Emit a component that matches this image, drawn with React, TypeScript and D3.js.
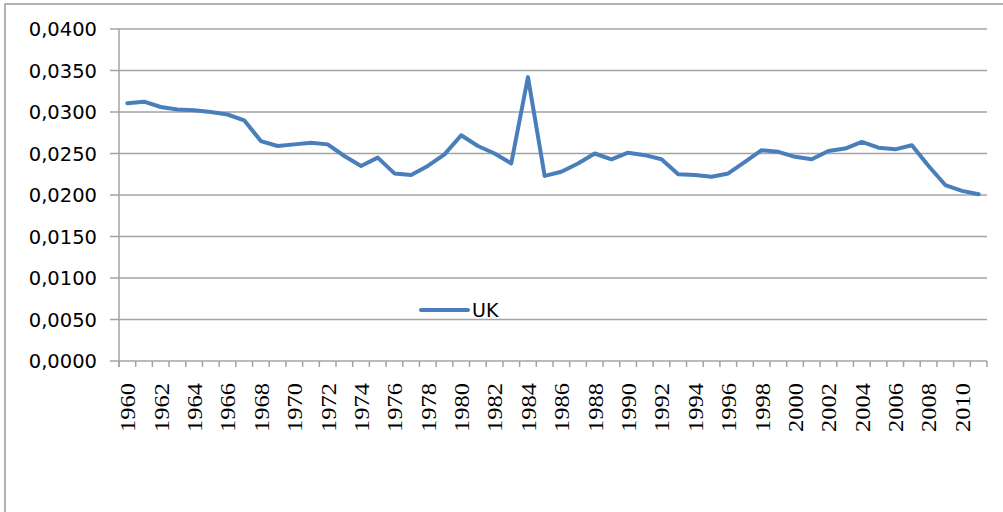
import React from "react";
import * as d3 from "d3";

const years: number[] = d3.range(1960, 2012);
const ukValues: number[] = [
  0.03105, 0.03124, 0.0306, 0.0303, 0.0302, 0.0300, 0.0297, 0.0290, 0.0265, 0.0259,
  0.0261, 0.0263, 0.0261, 0.0247, 0.0235, 0.0245, 0.0226, 0.0224, 0.0235, 0.0249,
  0.0272, 0.0259, 0.0250, 0.0238, 0.0342, 0.0223, 0.0228, 0.0238, 0.0250, 0.0243,
  0.0251, 0.0248, 0.0243, 0.0225, 0.0224, 0.0222, 0.0226, 0.0240, 0.0254, 0.0252,
  0.0246, 0.0243, 0.0253, 0.0256, 0.0264, 0.0257, 0.0255, 0.0260, 0.0235, 0.0212,
  0.0205, 0.0201,
];
const yTicks: number[] = [0, 0.005, 0.01, 0.015, 0.02, 0.025, 0.03, 0.035, 0.04];
const seriesName = "UK";

export default function App() {
  const W = 1003, H = 512;
  const left = 119, right = 987, top = 29, bottom = 361;
  const x = d3.scaleBand<number>().domain(years).range([left, right]);
  const y = d3.scaleLinear().domain([0, 0.04]).range([bottom, top]);
  const fmt = (v: number) => v.toFixed(4).replace(".", ",");
  const line = d3
    .line<number>()
    .x((_, i) => (x(years[i]) as number) + x.bandwidth() / 2)
    .y((d) => y(d));
  const grid = "#a3a3a3";
  const tickXs = years.map((yr) => x(yr) as number).concat([right]);
  return (
    <svg
      width={W}
      height={H}
      style={{ position: "absolute", left: 0, top: 0, background: "#fff" }}
    >
      <rect x={5} y={4} width={1100} height={600} fill="#fff" stroke="#9a9a9a" strokeWidth={1.5} />
      {yTicks.map((t) => (
        <g key={t}>
          <line x1={left} x2={right} y1={y(t)} y2={y(t)} stroke={grid} strokeWidth={1.5} />
          <line x1={110} x2={left} y1={y(t)} y2={y(t)} stroke={grid} strokeWidth={1.5} />
          <text
            x={97}
            y={y(t)}
            dy="0.36em"
            textAnchor="end"
            fontFamily="DejaVu Sans"
            fontSize={19.5}
            fill="#000"
          >
            {fmt(t)}
          </text>
        </g>
      ))}
      <line x1={left} x2={left} y1={top} y2={bottom + 6} stroke={grid} strokeWidth={1.5} />
      {tickXs.map((tx, i) => (
        <line key={i} x1={tx} x2={tx} y1={bottom} y2={bottom + 6} stroke={grid} strokeWidth={1.5} />
      ))}
      {years.map((yr) =>
        (yr - 1960) % 2 === 0 ? (
          <text
            key={yr}
            transform={`translate(${(x(yr) as number) + x.bandwidth() / 2},383) rotate(-90)`}
            dy="0.36em"
            textAnchor="end"
            fontFamily="Liberation Serif"
            fontSize={22}
            textLength={49}
            lengthAdjust="spacingAndGlyphs"
            fill="#000"
          >
            {yr}
          </text>
        ) : null
      )}
      <path d={line(ukValues) as string} fill="none" stroke="#4a7ebb" strokeWidth={4} strokeLinejoin="round" strokeLinecap="round" />
      <line x1={421} x2={468} y1={310} y2={310} stroke="#4a7ebb" strokeWidth={4} strokeLinecap="round" />
      <text x={472} y={310} dy="0.36em" fontFamily="DejaVu Sans" fontSize={19} fill="#000">
        {seriesName}
      </text>
    </svg>
  );
}
